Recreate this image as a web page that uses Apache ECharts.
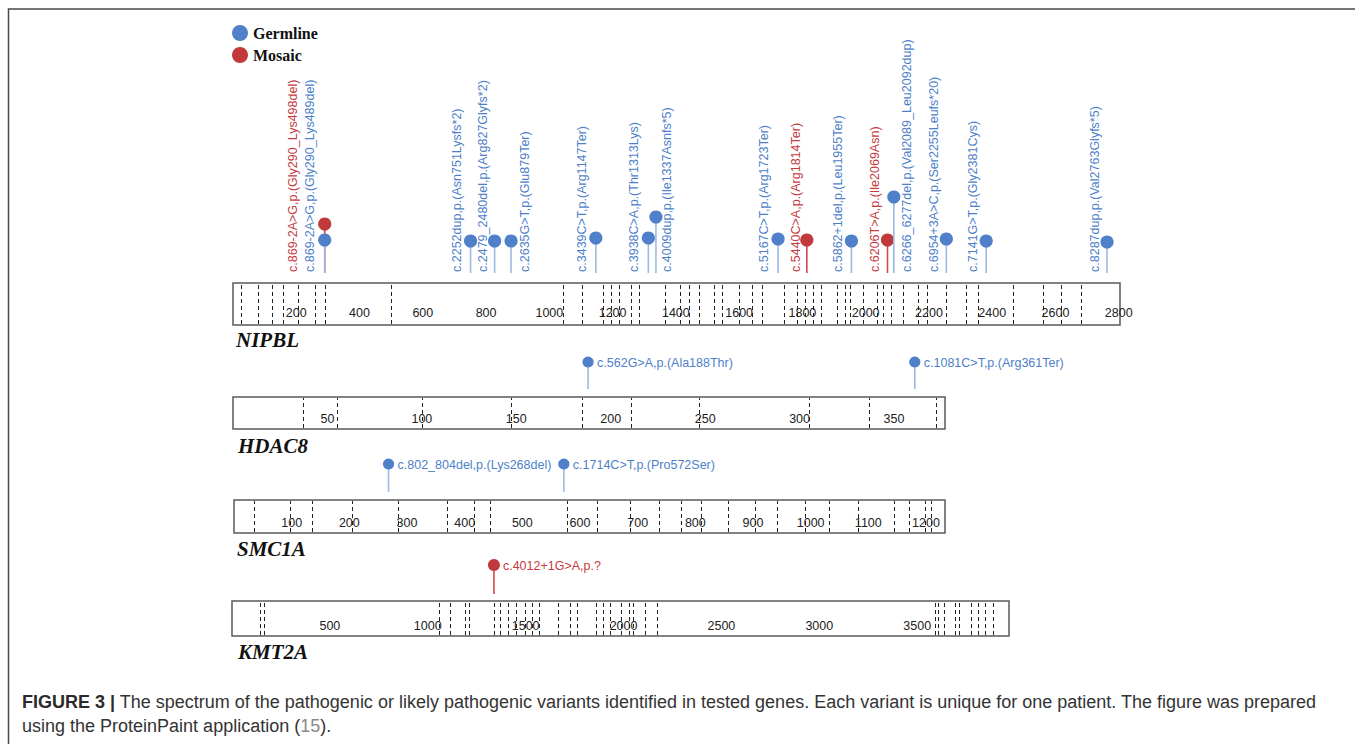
<!DOCTYPE html>
<html><head><meta charset="utf-8">
<script src="https://cdn.jsdelivr.net/npm/echarts@6/dist/echarts.min.js"></script>
<style>html,body{margin:0;padding:0;background:#fff}#c{width:1355px;height:744px}</style>
</head><body><div id="c"></div><script>
// ---------------- data ----------------
const genes = ['NIPBL', 'HDAC8', 'SMC1A', 'KMT2A'];
const geneLength = [2804, 377, 1233, 3969];
const tickInterval = [200, 50, 100, 500];
const nipblTicks = [200, 400, 600, 800, 1000, 1200, 1400, 1600, 1800, 2000, 2200, 2400, 2600, 2800];
const hdac8Ticks = [50, 100, 150, 200, 250, 300, 350];
const smc1aTicks = [100, 200, 300, 400, 500, 600, 700, 800, 900, 1000, 1100, 1200];
const kmt2aTicks = [500, 1000, 1500, 2000, 2500, 3000, 3500];

const nipblExons = [24, 79, 122, 157, 206, 259, 291, 500, 1044, 1102, 1169, 1194, 1220, 1257, 1285, 1366, 1413, 1442, 1473, 1521, 1545, 1600, 1642, 1673, 1742, 1782, 1808, 1833, 1858, 1909, 1935, 1951, 1993, 2035, 2056, 2080, 2119, 2165, 2193, 2254, 2316, 2354, 2467, 2562, 2618, 2681];
const hdac8Exons = [37, 55, 100, 147, 185, 211, 247, 305, 337, 372];
const smc1aExons = [35, 97, 135, 204, 284, 369, 417, 444, 578, 630, 687, 737, 775, 810, 857, 903, 942, 991, 1032, 1082, 1145, 1171, 1198, 1208];
const kmt2aExons = [142, 165, 1055, 1116, 1192, 1213, 1340, 1367, 1412, 1449, 1496, 1534, 1567, 1667, 1728, 1764, 1861, 1895, 1933, 1989, 2026, 2049, 2108, 2173, 3589, 3608, 3637, 3693, 3716, 3775, 3811, 3847, 3885];

const nipblPos = [290, 290, 751, 827, 879, 1147, 1313, 1337, 1723, 1814, 1955, 2069, 2089, 2255, 2381, 2763];
const nipblType = ['Mosaic', 'Germline', 'Germline', 'Germline', 'Germline', 'Germline', 'Germline', 'Germline', 'Germline', 'Mosaic', 'Germline', 'Mosaic', 'Germline', 'Germline', 'Germline', 'Germline'];
const nipblLabels = ['c.869-2A>G,p.(Gly290_Lys498del)', 'c.869-2A>G,p.(Gly290_Lys489del)', 'c.2252dup,p.(Asn751Lysfs*2)', 'c.2479_2480del,p.(Arg827Glyfs*2)', 'c.2635G>T,p.(Glu879Ter)', 'c.3439C>T,p.(Arg1147Ter)', 'c.3938C>A,p.(Thr1313Lys)', 'c.4009dup,p.(Ile1337Asnfs*5)', 'c.5167C>T,p.(Arg1723Ter)', 'c.5440C>A,p.(Arg1814Ter)', 'c.5862+1del,p.(Leu1955Ter)', 'c.6206T>A,p.(Ile2069Asn)', 'c.6266_6277del,p.(Val2089_Leu2092dup)', 'c.6954+3A>C,p.(Ser2255Leufs*20)', 'c.7141G>T,p.(Gly2381Cys)', 'c.8287dup,p.(Val2763Glyfs*5)'];

const hdac8Pos = [188, 361];
const hdac8Type = ['Germline', 'Germline'];
const hdac8Labels = ['c.562G>A,p.(Ala188Thr)', 'c.1081C>T,p.(Arg361Ter)'];

const smc1aPos = [268, 572];
const smc1aType = ['Germline', 'Germline'];
const smc1aLabels = ['c.802_804del,p.(Lys268del)', 'c.1714C>T,p.(Pro572Ser)'];

const kmt2aPos = [1338];
const kmt2aType = ['Mosaic'];
const kmt2aLabels = ['c.4012+1G>A,p.?'];

// ---------------- layout (pixels) ----------------
const nipblHead = [59, 43, 42, 42, 42, 45, 45, 66, 44, 43, 42, 43, 86, 44, 42, 41];
const nipblShift = [-32, -15, -14, -12, 14, -14, -14, 11, -14, -11, -13, -12, 13, -12, -13, -12];
const COLORS = { Germline: '#4f80c9', Mosaic: '#c1393b' };
const STEM = { Germline: '#9cbbe4', Mosaic: '#cf4a4c' };
const TEXT = { Germline: '#4e7fc9', Mosaic: '#c63b3e' };
const boxes = [
  { left: 233, width: 887, top: 283, height: 42, lab: 12, stemTop: 250, base: 10, r: 6.6 },
  { left: 233, width: 712, top: 397, height: 32, lab: 10, stemTop: 50, base: 8, r: 5.6 },
  { left: 234, width: 711, top: 500, height: 33, lab: 10, stemTop: 50, base: 8, r: 5.6 },
  { left: 232, width: 777, top: 601, height: 35, lab: 10, stemTop: 50, base: 7, r: 6 }
];
const ticksArr = [nipblTicks, hdac8Ticks, smc1aTicks, kmt2aTicks];
const exonArr = [nipblExons, hdac8Exons, smc1aExons, kmt2aExons];
const posArr = [nipblPos, hdac8Pos, smc1aPos, kmt2aPos];
const typeArr = [nipblType, hdac8Type, smc1aType, kmt2aType];
const labelArr = [nipblLabels, hdac8Labels, smc1aLabels, kmt2aLabels];
const headArr = [nipblHead, [35, 35], [36, 36], [36]];

const grid = [], xAxis = [], yAxis = [], series = [], titles = [];
const FONT = 'Liberation Sans';

boxes.forEach((b, g) => {
  // box grid
  grid.push({ left: b.left, width: b.width, top: b.top, height: b.height, show: true,
    borderColor: '#5a5a5a', borderWidth: 1.5, backgroundColor: '#fff', containLabel: false });
  // lollipop grid
  grid.push({ left: b.left, width: b.width, top: b.top - b.stemTop, height: b.stemTop, show: false });
  const ticks = ticksArr[g];
  xAxis.push({ gridIndex: 2 * g, type: 'value', min: 0, max: geneLength[g], interval: tickInterval[g],
    axisLine: { show: false }, axisTick: { show: false }, splitLine: { show: false },
    axisLabel: { inside: true, margin: b.lab, verticalAlign: 'middle', fontSize: 12.5, fontFamily: FONT, color: '#222',
      showMinLabel: true, showMaxLabel: true,
      formatter: v => (ticks.indexOf(v) >= 0 ? String(v) : '') } });
  xAxis.push({ gridIndex: 2 * g + 1, type: 'value', min: 0, max: geneLength[g], show: false });
  yAxis.push({ gridIndex: 2 * g, type: 'value', min: 0, max: 1, show: false });
  yAxis.push({ gridIndex: 2 * g + 1, type: 'value', min: 0, max: b.stemTop, show: false });

  // exon boundaries (dashed)
  series.push({ type: 'custom', xAxisIndex: 2 * g, yAxisIndex: 2 * g, silent: true, z: 3,
    data: exonArr[g].map(v => [v]),
    renderItem: (params, api) => {
      const p0 = api.coord([api.value(0), 0]);
      const p1 = api.coord([api.value(0), 1]);
      return { type: 'line', shape: { x1: Math.round(p0[0]) + 0.5, y1: p0[1] - 1, x2: Math.round(p0[0]) + 0.5, y2: p1[1] + 1 },
        style: { stroke: '#222', lineWidth: 1, lineDash: [4, 3] } };
    } });

  // lollipops
  ['Mosaic', 'Germline'].forEach(t => {
    const data = [];
    posArr[g].forEach((p, i) => { if (typeArr[g][i] === t) data.push([p, headArr[g][i], i]); });
    if (!data.length) return;
    series.push({ type: 'custom', name: t, xAxisIndex: 2 * g + 1, yAxisIndex: 2 * g + 1, z: t === 'Germline' ? 5 : 4,
      data: data,
      renderItem: (params, api) => {
        const x = api.value(0), h = api.value(1), i = api.value(2);
        const base = api.coord([x, b.base]);
        const head = api.coord([x, h]);
        const children = [
          { type: 'line', shape: { x1: base[0], y1: base[1], x2: head[0], y2: head[1] },
            style: { stroke: STEM[t], lineWidth: 1.6 } },
          { type: 'circle', shape: { cx: head[0], cy: head[1], r: b.r }, style: { fill: COLORS[t] } }
        ];
        if (g === 0) {
          const lb = api.coord([x, 11]);
          children.push({ type: 'text', x: head[0] + nipblShift[i], y: lb[1], rotation: Math.PI / 2,
            style: { text: labelArr[g][i], fill: TEXT[t], fontSize: 12.5, fontFamily: FONT, align: 'left', verticalAlign: 'middle' } });
        } else {
          children.push({ type: 'text', x: head[0] + 9, y: head[1] + 0.5,
            style: { text: labelArr[g][i], fill: TEXT[t], fontSize: 12.5, fontFamily: FONT, align: 'left', verticalAlign: 'middle' } });
        }
        return { type: 'group', children };
      } });
  });
});

const nameTops = [329, 435, 538, 641];
const nameLefts = [236, 238, 237, 238];
genes.forEach((n, g) => titles.push({ text: n, left: nameLefts[g], top: nameTops[g], padding: 0,
  textStyle: { fontFamily: 'Liberation Serif', fontStyle: 'italic', fontWeight: 'bold', fontSize: 21, color: '#111' } }));

titles.push({ left: 22, top: 693, padding: 0,
  text: '{b|FIGURE 3 |}{n| The spectrum of the pathogenic or likely pathogenic variants identified in tested genes. Each variant is unique for one patient. The figure was prepared}',
  textStyle: { rich: {
    b: { fontFamily: FONT, fontWeight: 'bold', fontSize: 18, color: '#2b2b2b' },
    n: { fontFamily: FONT, fontWeight: 'normal', fontSize: 18, color: '#333' } } } });
titles.push({ left: 22, top: 717, padding: 0,
  text: '{n|using the ProteinPaint application (}{g|15}{n|).}',
  textStyle: { rich: {
    n: { fontFamily: FONT, fontWeight: 'normal', fontSize: 18, color: '#333' },
    g: { fontFamily: FONT, fontWeight: 'normal', fontSize: 18, color: '#888' } } } });

const chart = echarts.init(document.getElementById('c'), null, { renderer: 'svg' });
chart.setOption({
  animation: false,
  backgroundColor: '#fff',
  title: titles,
  legend: { orient: 'vertical', left: 232, top: 25, padding: 0, itemWidth: 16, itemHeight: 16, itemGap: 6, icon: 'circle',
    selectedMode: false,
    data: [{ name: 'Germline', itemStyle: { color: COLORS.Germline } }, { name: 'Mosaic', itemStyle: { color: COLORS.Mosaic } }],
    textStyle: { fontFamily: 'Liberation Serif', fontWeight: 'bold', fontSize: 16, color: '#111' } },
  grid, xAxis, yAxis, series,
  graphic: [{ type: 'polyline', silent: true, shape: { points: [[8.5, 744], [8.5, 9], [1355, 9]] },
    style: { stroke: '#4a4a4a', lineWidth: 1.5, fill: null } }]
});
</script></body></html>
